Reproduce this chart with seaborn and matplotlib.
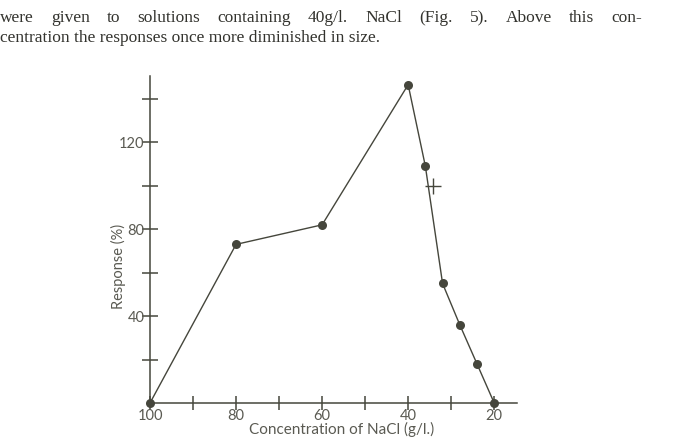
import matplotlib
matplotlib.use("Agg")
import matplotlib.pyplot as plt
import seaborn as sns
import pandas as pd

# Data
concentration = [100, 80, 60, 40, 36, 32, 28, 24, 20]
response = [0, 73, 82, 146.5, 109, 55, 36, 18, 0]
cross_conc = [34.3]
cross_resp = [100]

x_major = [100, 80, 60, 40, 20]
x_minor = [90, 70, 50, 30]
y_major = [40, 80, 120]
y_minor = [20, 60, 100, 140]

body_line1 = "were given to solutions containing 40g/l. NaCl (Fig. 5). Above this con-"
body_line2 = "centration the responses once more diminished in size."

ink = "#45463c"
txt = "#5a5a52"
serif_col = "#33332e"

sns.set_style("white")
plt.rcParams['font.family'] = ['Lato', 'DejaVu Sans']

fig = plt.figure(figsize=(6.78, 4.37), dpi=100)
W, H = 678, 437
left, right, bottom, top = 150, 517, 403, 76
ax = fig.add_axes([left / W, 1 - bottom / H, (right - left) / W, (bottom - top) / H])

df = pd.DataFrame({"conc": concentration, "resp": response})
sns.lineplot(data=df, x="conc", y="resp", ax=ax, color=ink, linewidth=1.0,
             marker="o", markersize=6.5, markeredgewidth=0, sort=False,
             clip_on=False)
ax.plot(cross_conc, cross_resp, marker="+", markersize=11, markeredgewidth=1.0,
        color=ink, linestyle="none", clip_on=False)

ax.set_xlim(100, 14.7)
ax.set_ylim(0, 150.5)

for s in ["top", "right"]:
    ax.spines[s].set_visible(False)
for s in ["left", "bottom"]:
    ax.spines[s].set_color(ink)
    ax.spines[s].set_linewidth(1.1)

ax.set_xticks(x_major)
ax.set_xticks(x_minor, minor=True)
ax.set_yticks(y_major)
ax.set_yticks(y_minor, minor=True)
ax.set_xticklabels([str(v) for v in x_major])
ax.set_yticklabels([str(v) for v in y_major])

ax.tick_params(which="both", bottom=True, left=True, direction="inout", length=10,
               width=1.1, color=ink, labelcolor=txt, labelsize=10.5)
ax.tick_params(axis="y", which="both", length=11, pad=-1.5)
ax.tick_params(axis="x", which="both", pad=-1)

ax.set_xlabel("Concentration of NaCl (g/l.)", fontsize=11, color=txt)
ax.set_ylabel("Response (%)", fontsize=10.5, color=txt)
ax.xaxis.set_label_coords(0.523, -0.059)
ax.yaxis.set_label_coords(-0.066, 0.419)

# Body text above the figure: line 1 justified to the measure, line 2 ragged
fs = 12.5
renderer = fig.canvas.get_renderer()
words = body_line1.split(" ")
widths = []
for w in words:
    t = fig.text(0, 0, w, family="Liberation Serif", fontsize=fs)
    widths.append(t.get_window_extent(renderer).width)
    t.remove()
line_start, line_end = 0, 642
gap = (line_end - line_start - sum(widths)) / (len(words) - 1)
xpos = line_start
for w, wd in zip(words, widths):
    fig.text(xpos / W, 1 - 22.5 / H, w, family="Liberation Serif", fontsize=fs,
             color=serif_col, va="baseline", ha="left")
    xpos += wd + gap
fig.text(0 / W, 1 - 42.5 / H, body_line2, family="Liberation Serif", fontsize=fs,
         color=serif_col, va="baseline", ha="left")

fig.savefig("out.png", dpi=100, facecolor="white")
